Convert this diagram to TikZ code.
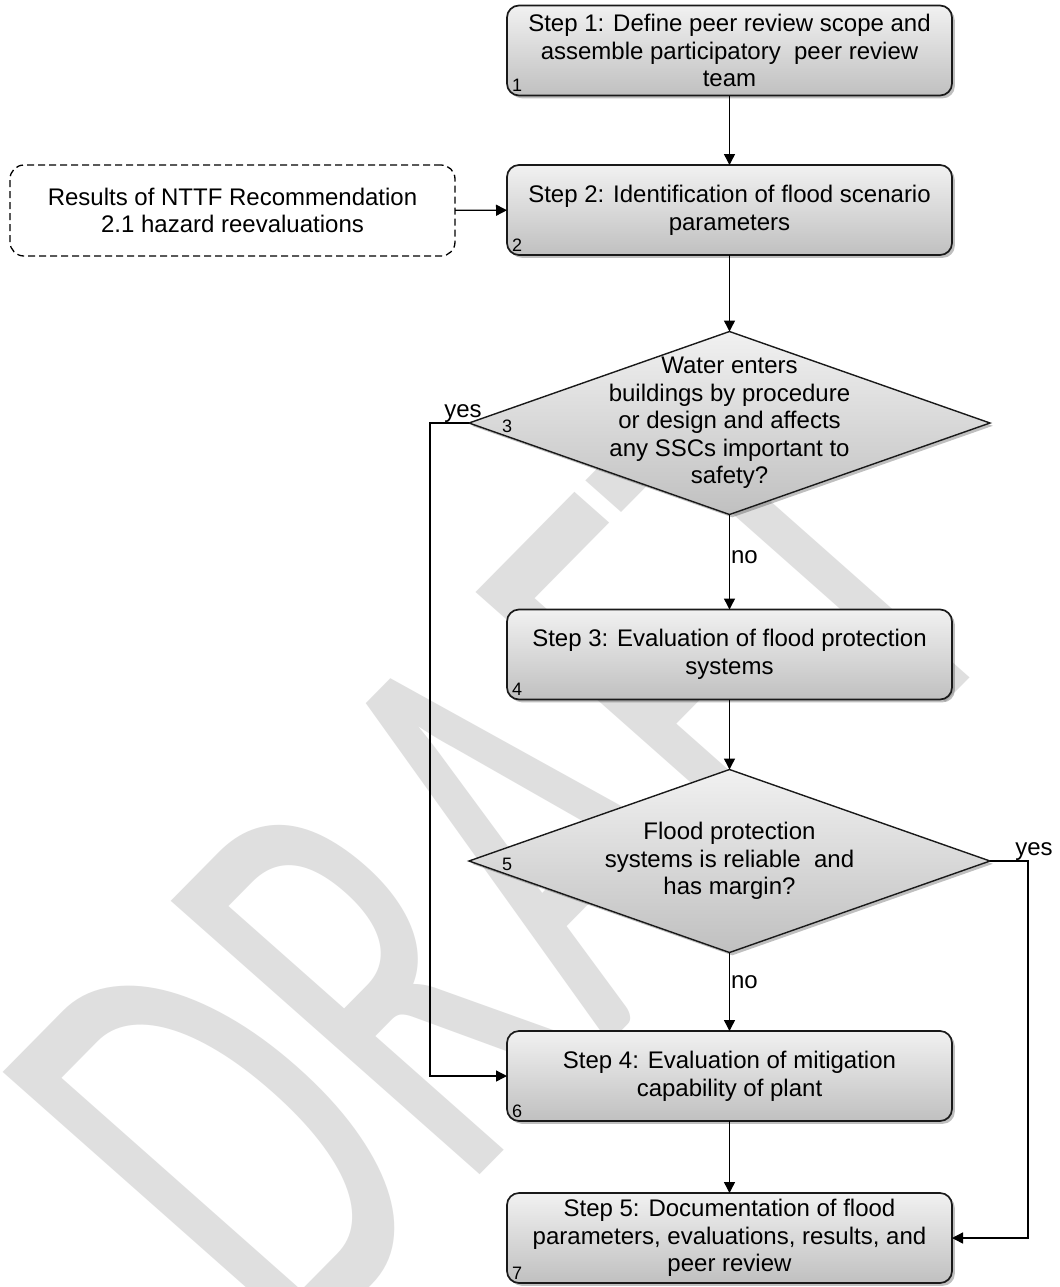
\documentclass[tikz,border=0pt]{standalone}
\usepackage{fontspec}
\setmainfont{Liberation Sans}
\newfontfamily\wmfont{Carlito}
\usetikzlibrary{arrows.meta,shapes.geometric,shadows,calc}
\definecolor{wmgray}{RGB}{223,223,223}
\definecolor{boxtop}{RGB}{241,241,241}
\definecolor{boxbot}{RGB}{192,192,192}
\begin{document}
\begin{tikzpicture}[x=0.5pt,y=-0.5pt,
  every node/.style={inner sep=0pt,outer sep=0pt},
  txt/.style={font=\fontsize{12}{13.8}\selectfont,align=center},
  stepbox/.style={rectangle,rounded corners=6pt,draw=black!90,line width=0.85pt,
    minimum width=222.5pt,minimum height=45pt,top color=boxtop,bottom color=boxbot,
    drop shadow={shadow xshift=1.4pt,shadow yshift=-1.4pt,fill=black,opacity=0.25},
    txt},
  decision/.style={diamond,draw=black!90,line width=0.7pt,
    minimum width=260.5pt,minimum height=91.5pt,top color=boxtop,bottom color=boxbot,
    drop shadow={shadow xshift=1.4pt,shadow yshift=-1.4pt,fill=black,opacity=0.25}},
  extbox/.style={rectangle,rounded corners=7pt,draw=black,line width=0.65pt,
    dash pattern=on 3.5pt off 2pt,minimum width=222.5pt,minimum height=45.5pt,fill=white,txt},
  numlabel/.style={font=\fontsize{9}{10}\selectfont,anchor=base west},
  flow/.style={draw=black,line width=0.7pt,-{Triangle[length=5.5pt,width=5.5pt]}},
  branch/.style={font=\fontsize{12}{13.8}\selectfont},
  wm/.style={anchor=base west,text=wmgray,font=\wmfont\fontsize{321}{321}\selectfont,
    rotate=45.4,xslant=-0.054,xscale=0.604,transform shape}
]
\useasboundingbox (0,0) rectangle (1060,1287);
\fill[white] (0,0) rectangle (1060,1287);
\clip (0,0) rectangle (1060,1287);

% background watermark
\node[wm] (wmark) at (293.5,1364) {DRAFT};

% process steps
\node[stepbox] (b1) at (729.5,50.5) {Step 1: Define peer review scope and\\assemble participatory\ \ peer review\\team};
\node[stepbox] (b2) at (729.5,210) {Step 2: Identification of flood scenario\\parameters};
\node[extbox] (ext) at (232.5,210.5) {Results of NTTF Recommendation\\2.1 hazard reevaluations};
\node[decision] (d1) at (729.5,423) {};
\node[txt] (d1t) at (d1.center) {Water enters\\buildings by procedure\\or design and affects\\any SSCs important to\\safety?};
\node[stepbox] (b4) at (729.5,654.5) {Step 3: Evaluation of flood protection\\systems};
\node[decision] (d2) at (729.5,861) {};
\node[txt] (d2t) at (d2.center) {Flood protection\\systems is reliable\ \ and\\has margin?};
\node[stepbox] (b6) at (729.5,1076) {Step 4: Evaluation of mitigation\\capability of plant};
\node[stepbox] (b7) at (729.5,1238) {Step 5: Documentation of flood\\parameters, evaluations, results, and\\peer review};

% shape numbers
\node[numlabel] (n1) at ($(b1.south west)+(5,-4)$) {1};
\node[numlabel] (n2) at ($(b2.south west)+(5,-4)$) {2};
\node[numlabel] (n3) at ($(d1.west)+(33,9)$) {3};
\node[numlabel] (n4) at ($(b4.south west)+(5,-4)$) {4};
\node[numlabel] (n5) at ($(d2.west)+(33,9)$) {5};
\node[numlabel] (n6) at ($(b6.south west)+(5,-4)$) {6};
\node[numlabel] (n7) at ($(b7.south west)+(5,-4)$) {7};

% connectors
\coordinate (yl) at (430,0);
\coordinate (yr) at (1028,0);
\draw[flow] (b1) -- (b2);
\draw[flow] (ext) -- (b2);
\draw[flow] (b2) -- (d1.north);
\draw[flow] (d1.south) -- (b4.north);
\draw[flow] (b4) -- (d2.north);
\draw[flow] (d2.south) -- (b6.north);
\draw[flow] (b6) -- (b7);
\draw[flow] (d1.west) -- (d1.west -| yl) |- (b6.west);
\draw[flow] (d2.east) -- (d2.east -| yr) |- (b7.east);

% branch labels
\node[branch,anchor=base] (yes1) at (463,417) {yes};
\node[branch,anchor=base] (yes2) at (1034,855) {yes};
\node[branch,anchor=west] (no1) at (731,557) {no};
\node[branch,anchor=west] (no2) at (731,982) {no};
\end{tikzpicture}
\end{document}
